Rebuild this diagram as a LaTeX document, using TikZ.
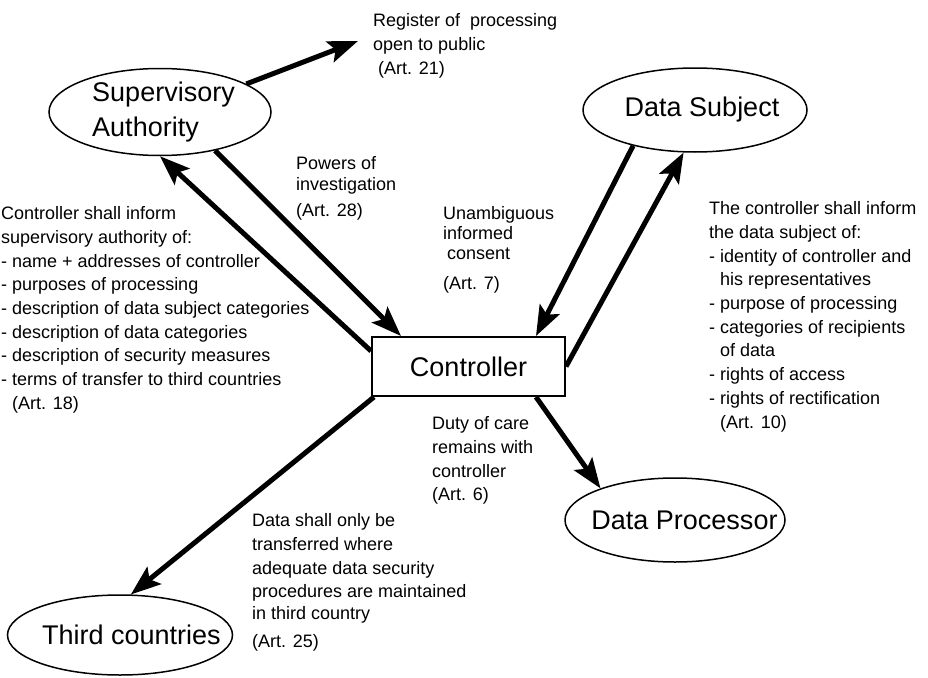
\documentclass[tikz,border=0pt]{standalone}
\usepackage{fontspec}
\setmainfont{Liberation Sans}
\usetikzlibrary{arrows.meta,shapes.geometric}

\begin{document}
\begin{tikzpicture}[x=1pt,y=-1pt,
  party/.style={draw, ellipse, line width=1.5pt, inner sep=0pt},
  bigtext/.style={font=\fontsize{27}{35}\selectfont},
  note/.style={anchor=north west, inner sep=0pt, align=left, font=\fontsize{18}{23.7}\selectfont},
  flow/.style={line width=5pt, -{Stealth[length=30pt,width=22pt,inset=6pt]}}]

\useasboundingbox (0,0) rectangle (928,677);

% the parties
\node[party, minimum width=222pt, minimum height=87pt,
  label={[bigtext, align=left, xshift=3.5pt]center:{Supervisory\\Authority}}] (sa) at (160,112) {};
\node[party, minimum width=224pt, minimum height=84pt,
  label={[bigtext, xshift=7pt]center:Data Subject}] (ds) at (695,110) {};
\node[draw, line width=2pt, minimum width=193pt, minimum height=59pt, bigtext] (ctrl) at (468.5,366.5) {Controller};
\node[party, minimum width=220pt, minimum height=84pt,
  label={[bigtext, xshift=9.5pt]center:Data Processor}] (dp) at (675,520) {};
\node[party, minimum width=225pt, minimum height=80pt,
  label={[bigtext, xshift=11.5pt]center:Third countries}] (tc) at (120,635) {};

% the notes
\node[note] (reg) at (373,13.5) {Register of\ \ processing\\open to public\\\hspace*{5pt}(Art. 21)};
\coordinate (regin) at (358,41);
\node[note, font=\fontsize{18}{21}\selectfont] (pow) at (296,156.5) {Powers of\\investigation\\[5pt](Art. 28)};
\node[note] (sainf) at (1,206.5) {Controller shall inform\\supervisory authority of:\\- name + addresses of controller\\- purposes of processing\\- description of data subject categories\\- description of data categories\\- description of security measures\\- terms of transfer to third countries\\\phantom{- }(Art. 18)};
\node[note, font=\fontsize{18}{20}\selectfont] (unam) at (443,206.5) {Unambiguous\\informed\\\hspace*{4pt}consent\\[10pt](Art. 7)};
\node[note] (dsinf) at (709,201.5) {The controller shall inform\\the data subject of:\\- identity of controller and\\\phantom{- }his representatives\\- purpose of processing\\- categories of recipients\\\phantom{- }of data\\- rights of access\\- rights of rectification\\\phantom{- }(Art. 10)};
\node[note] (duty) at (432,416.5) {Duty of care\\remains with\\controller\\(Art. 6)};
\node[note] (transf) at (252,513.5) {Data shall only be\\transferred where\\adequate data security\\procedures are maintained\\[-2.5pt]in third country\\[4.5pt](Art. 25)};

% the flows
\draw[flow] (sa.18) -- (regin);
\draw[flow] ([yshift=-15pt]ctrl.north west) -- (sa.south);
\draw[flow] (sa.-35) -- ([xshift=30pt]ctrl.north west);
\draw[flow] (ds.-150) -- ([xshift=-30pt]ctrl.north east);
\draw[flow] (ctrl.east) -- (ds.-105);
\draw[flow] ([xshift=-30pt]ctrl.south east) -- (dp.157);
\draw[flow] ([xshift=3pt]ctrl.south west) -- (tc.75);
\end{tikzpicture}
\end{document}
